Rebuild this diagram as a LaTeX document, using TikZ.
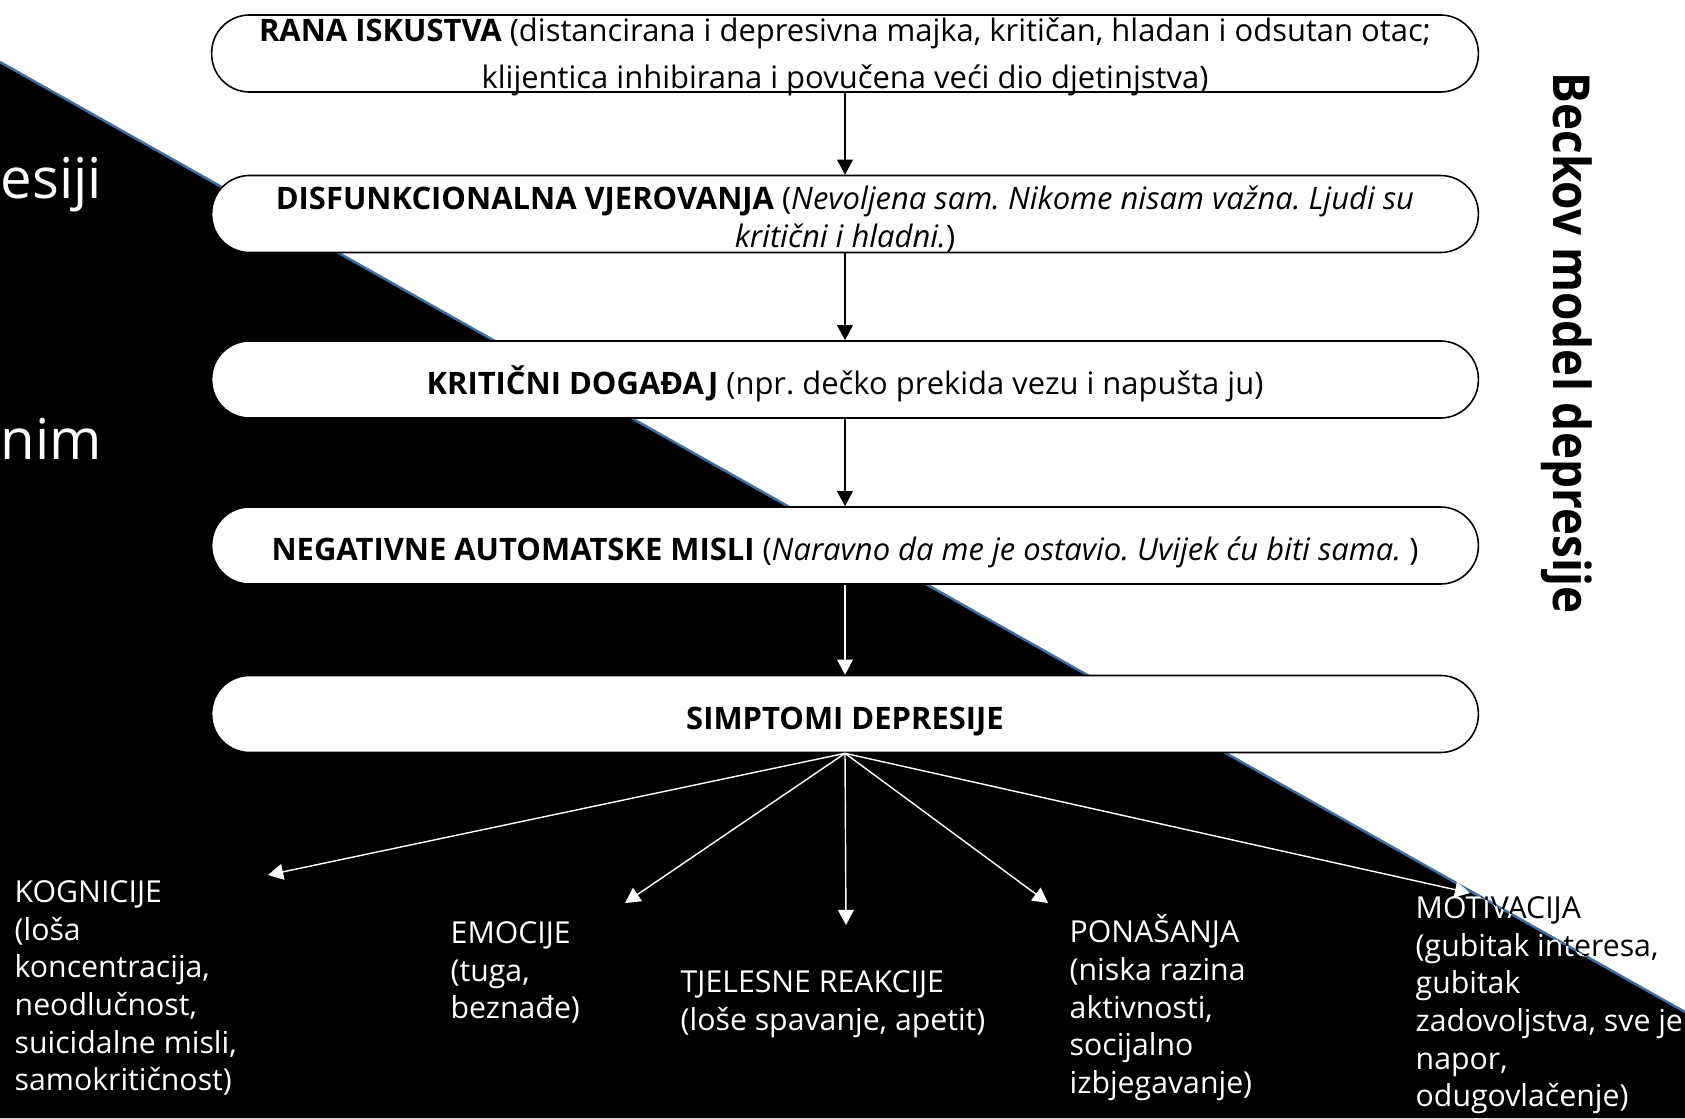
\documentclass[tikz,border=0pt]{standalone}
\usepackage{fontspec}
\setmainfont{Open Sans}
\newfontfamily\titlefont[FakeStretch = 0.9]{Open Sans}
\usetikzlibrary{arrows.meta}
\definecolor{diagblue}{RGB}{65,110,160}
\frenchspacing

\tikzset{
	box/.style = {draw = black, fill = white, line width = 0.45pt, rounded corners = 0.38cm,
		minimum width = 12.66cm, minimum height = 0.77cm, inner sep = 0pt, align = center,
		text height = 9.5pt, text depth = 0.8pt, font = \fontsize{8.8}{10.7}\selectfont},
	sym/.style = {white, anchor = north west, align = left, inner sep = 0pt,
		font = \fontsize{8.6}{10.7}\selectfont},
	down/.style = {-{Triangle[length = 4.3pt, width = 4.5pt]}, line width = 0.4pt},
	side/.style = {white, anchor = base west, inner sep = 0pt, font = \fontsize{16}{16}\selectfont}
}

\begin{document}
\begin{tikzpicture}[x = 0.01cm, y = -0.01cm]
	\useasboundingbox (0,0) rectangle (1685,1118);
	% background
	\fill[black] (0,62) -- (1685,1012) -- (1685,1118) -- (0,1118) -- cycle;
	\draw[diagblue, line width = 0.7pt] (0,62) -- (1685,1012);
	\node (l1) at (0,198) [side] {esiji};
	\node (l2) at (0,459) [side] {nim};
	% the chain
	\node (a) at (845,53.5) [box, text height = 7pt, text depth = 14.1pt, font = \fontsize{8.8}{13.4}\selectfont]
		{\parbox[t]{12.5cm}{\centering\textbf{RANA ISKUSTVA} (distancirana i depresivna majka, kritičan, hladan i odsutan otac;\\klijentica inhibirana i povučena veći dio djetinjstva)}};
	\node (b) at (845,214) [box, text height = 9pt, text depth = 11.45pt]
		{\parbox[t]{12.5cm}{\centering\textbf{DISFUNKCIONALNA VJEROVANJA} (\textit{Nevoljena sam. Nikome nisam važna. Ljudi su}\\\textit{kritični i hladni.})}};
	\node (c) at (845,379.5) [box] {\textbf{KRITIČNI DOGAĐAJ} (npr. dečko prekida vezu i napušta ju)};
	\node (d) at (845,545.5) [box] {\textbf{NEGATIVNE AUTOMATSKE MISLI} (\textit{Naravno da me je ostavio. Uvijek ću biti sama.} )};
	\node (e) at (845,714) [box] {\textbf{SIMPTOMI DEPRESIJE}};
	\draw[down] (a) -- (b);
	\draw[down] (b) -- (c);
	\draw[down] (c) -- (d);
	\draw[down, white] (d) -- (e);
	% symptoms
	\node (f) at (14,880) [sym] {KOGNICIJE\\(loša\\koncentracija,\\neodlučnost,\\suicidalne misli,\\samokritičnost)};
	\node (g) at (450,921) [sym] {EMOCIJE\\(tuga,\\beznađe)};
	\node (h) at (680,970) [sym] {TJELESNE REAKCIJE\\(loše spavanje, apetit)};
	\node (i) at (1069,914) [sym] {PONAŠANJA\\(niska razina\\aktivnosti,\\socijalno\\izbjegavanje)};
	\node (j) at (1415,896) [sym] {MOTIVACIJA\\(gubitak interesa,\\gubitak\\zadovoljstva, sve je\\napor,\\odugovlačenje)};
	% the part of it on the white side turns black
	\begin{scope}
		\clip (0,0) -- (1685,0) -- (1685,1012) -- (0,62) -- cycle;
		\node (j2) at (1415,896) [sym, black] {MOTIVACIJA\\(gubitak interesa,\\gubitak\\zadovoljstva, sve je\\napor,\\odugovlačenje)};
	\end{scope}
	\coordinate (f1) at (268,875);
	\coordinate (g1) at (625,903);
	\coordinate (h1) at (846,925);
	\coordinate (i1) at (1048,903);
	\coordinate (j1) at (1470,893);
	\draw[down, white] (e.south) -- (f1);
	\draw[down, white] (e.south) -- (g1);
	\draw[down, white] (e.south) -- (h1);
	\draw[down, white] (e.south) -- (i1);
	\draw[down, white] (e.south) -- (j1);
	\node (t) at (1567,343) [rotate = -90, font = \titlefont\bfseries\fontsize{14.5}{14.5}\selectfont] {Beckov model depresije};
\end{tikzpicture}
\end{document}
